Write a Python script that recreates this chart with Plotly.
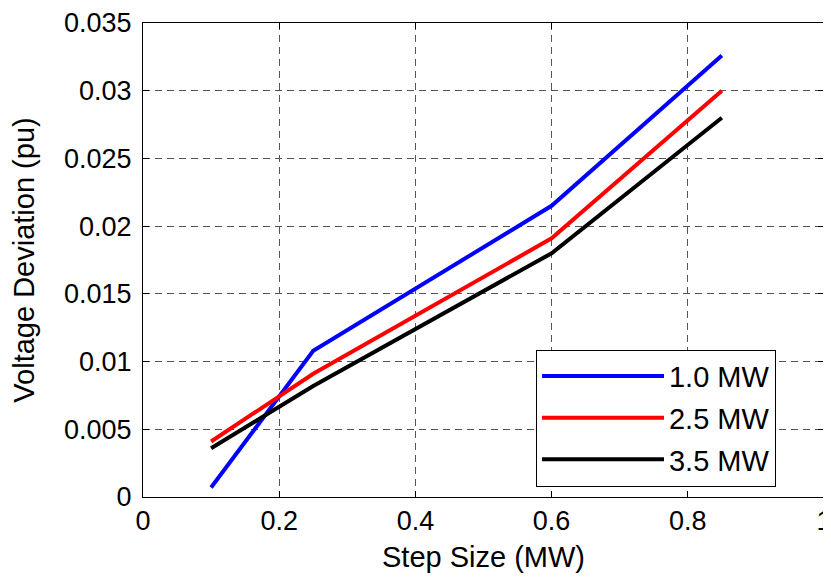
import plotly.graph_objects as go

step_size = [0.1, 0.25, 0.6, 0.85]
dev_1_0 = [0.0007, 0.0108, 0.0215, 0.0326]
dev_2_5 = [0.0041, 0.0091, 0.0191, 0.0300]
dev_3_5 = [0.0036, 0.0082, 0.0180, 0.0280]
series_names = ["1.0 MW", "2.5 MW", "3.5 MW"]
series_colors = ["#0000ff", "#ff0000", "#000000"]

x_ticks = [0, 0.2, 0.4, 0.6, 0.8, 1.0]
x_tick_text = ["0", "0.2", "0.4", "0.6", "0.8", "1"]
y_ticks = [0, 0.005, 0.01, 0.015, 0.02, 0.025, 0.03, 0.035]
y_tick_text = ["0", "0.005", "0.01", "0.015", "0.02", "0.025", "0.03", "0.035"]

fig = go.Figure()
for name, ys, col in zip(series_names, [dev_1_0, dev_2_5, dev_3_5], series_colors):
    fig.add_trace(go.Scatter(x=step_size, y=ys, mode="lines", name=name,
                             legendgroup=name,
                             line=dict(color=col, width=4)))

font = "Liberation Sans, Arial, sans-serif"
axis_common = dict(
    showline=True, linecolor="black", linewidth=1, mirror="ticks",
    ticks="inside", ticklen=6, tickcolor="black",
    showgrid=True, gridcolor="#555555", gridwidth=1, griddash="7px,5px",
    zeroline=False, automargin=False, ticklabeloverflow="allow",
    tickfont=dict(family=font, size=27, color="black"),
)
fig.update_xaxes(range=[0, 1], tickvals=x_ticks, ticktext=x_tick_text,
                 ticklabelstandoff=0,
                 title=dict(text="Step Size (MW)", font=dict(family=font, size=29, color="black"), standoff=11),
                 **axis_common)
fig.update_yaxes(range=[0, 0.035], tickvals=y_ticks, ticktext=y_tick_text,
                 ticklabelstandoff=5,
                 title=dict(text="Voltage Deviation (pu)", font=dict(family=font, size=29, color="black"), standoff=21),
                 **axis_common)

fig.update_layout(
    width=823, height=569,
    margin=dict(l=135, r=7, t=15, b=80),
    plot_bgcolor="white", paper_bgcolor="white",
    font=dict(family=font, size=27, color="black"),
    legend=dict(x=0.9295, y=0.311, xanchor="right", yanchor="top",
                bgcolor="white", bordercolor="black", borderwidth=1,
                font=dict(family=font, size=29, color="black"),
                itemwidth=122, tracegroupgap=1),
    showlegend=True,
)

fig.write_html("out.html")
